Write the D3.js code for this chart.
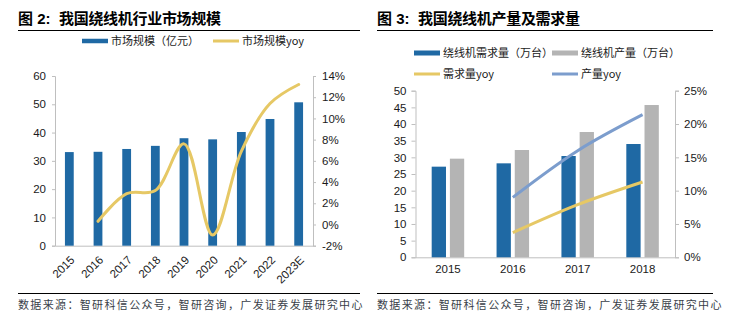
<!DOCTYPE html>
<html>
<head>
<meta charset="utf-8">
<script src="https://cdn.jsdelivr.net/npm/d3@7"></script>
<style>
  body { margin: 0; background: #fff; }
  svg text { font-family: "Liberation Sans", Arial, "Noto Sans CJK SC", sans-serif; }
  .cjk { font-family: "Noto Sans CJK SC", sans-serif; }
  .title { font-family: "Liberation Sans", Arial, "Noto Sans CJK SC", sans-serif; }
</style>
</head>
<body>
<div id="chart"></div>
<script>
// 图2 市场规模
var years1 = ["2015", "2016", "2017", "2018", "2019", "2020", "2021", "2022", "2023E"];
var market = [33.1, 33.2, 34.2, 35.3, 38.0, 37.6, 40.2, 44.8, 50.7];
var marketYoy = [null, 0.3, 2.9, 3.2, 7.6, -1.0, 6.9, 11.4, 13.2];
var leftTicks1 = [0, 10, 20, 30, 40, 50, 60];
var rightTicks1 = [-2, 0, 2, 4, 6, 8, 10, 12, 14];

// 图3 产量及需求量
var years2 = ["2015", "2016", "2017", "2018"];
var demand = [27.2, 28.2, 30.4, 34.0];
var output = [29.6, 32.2, 37.6, 45.7];
var demandYoy = [null, 3.7, 7.9, 11.3];
var outputYoy = [null, 9.0, 16.0, 21.4];
var leftTicks2 = [0, 5, 10, 15, 20, 25, 30, 35, 40, 45, 50];
var rightTicks2 = [0, 5, 10, 15, 20, 25];

var blue = "#1F69A4", gray = "#B4B4B4", yellow = "#E6C865", steel = "#7C9DCD";

var svg = d3.select("#chart").append("svg")
  .attr("width", 729)
  .attr("height", 325);

function header(x0, x1, num, title, srcY) {
  var t = svg.append("text")
    .attr("class", "title")
    .attr("x", x0)
    .attr("y", 24)
    .attr("font-size", "15px")
    .attr("font-weight", "bold")
    .attr("fill", "#000");
  t.append("tspan").text("图 " + num + ": ");
  t.append("tspan").attr("x", x0 + 41).attr("letter-spacing", "-0.3px").text(title);
  svg.append("line")
    .attr("x1", x0).attr("x2", x1)
    .attr("y1", 30.5).attr("y2", 30.5)
    .attr("stroke", "#000").attr("stroke-width", 1.2);
  svg.append("line")
    .attr("x1", x0).attr("x2", x1)
    .attr("y1", srcY).attr("y2", srcY)
    .attr("stroke", "#000").attr("stroke-width", 1.2);
  svg.append("text")
    .attr("class", "cjk")
    .attr("x", x0)
    .attr("y", srcY + 15)
    .attr("font-size", "11px")
    .attr("letter-spacing", "1.35px")
    .attr("fill", "#3a3f4a")
    .text("数据来源：智研科信公众号，智研咨询，广发证券发展研究中心");
}

function legendItem(x, y, color, h, label) {
  svg.append("rect")
    .attr("x", x).attr("y", y - h / 2)
    .attr("width", 26).attr("height", h)
    .attr("fill", color);
  svg.append("text")
    .attr("class", "cjk")
    .attr("x", x + 29).attr("y", y + 4)
    .attr("font-size", "11px")
    .attr("fill", "#1a1a1a")
    .text(label);
}

function styleAxis(g) {
  g.select(".domain").attr("stroke", "#BFBFBF");
  g.selectAll(".tick line").attr("stroke", "#BFBFBF");
  g.selectAll(".tick text").attr("fill", "#1a1a1a").attr("font-size", "11.5px");
}

// ---------- left chart ----------
header(18, 360, "2", "我国绕线机行业市场规模", 293.5);
legendItem(82, 41, blue, 4.5, "市场规模（亿元）");
legendItem(213, 41, yellow, 3, "市场规模yoy");

var x1 = d3.scaleBand().domain(years1).range([55, 313]);
var y1 = d3.scaleLinear().domain([0, 60]).range([245.7, 76]);
var y1r = d3.scaleLinear().domain([-2, 14]).range([245.7, 76]);

svg.append("g")
  .attr("transform", "translate(55,0)")
  .call(d3.axisLeft(y1).tickValues(leftTicks1).tickSize(3).tickPadding(6))
  .call(styleAxis);

svg.append("g")
  .attr("transform", "translate(313,0)")
  .call(d3.axisRight(y1r).tickValues(rightTicks1).tickSize(3).tickPadding(6)
    .tickFormat(function (d) { return d + "%"; }))
  .call(styleAxis);

// rotated year labels, end of text near the bar centre
var xa1 = svg.append("g")
  .attr("transform", "translate(0,245.7)")
  .call(d3.axisBottom(x1).tickSize(0).tickPadding(0))
  .call(styleAxis);
xa1.selectAll(".tick text")
  .attr("text-anchor", "end")
  .attr("x", 0)
  .attr("y", 0)
  .attr("dy", 0)
  .attr("transform", "translate(6,15) rotate(-45)");

svg.append("g").selectAll("rect")
  .data(market)
  .enter()
  .append("rect")
  .attr("x", function (d, i) { return x1(years1[i]) + x1.bandwidth() / 2 - 4.4; })
  .attr("y", function (d) { return y1(d); })
  .attr("width", 8.8)
  .attr("height", function (d) { return y1(0) - y1(d); })
  .attr("fill", blue);

var line1 = d3.line()
  .defined(function (d) { return d != null; })
  .x(function (d, i) { return x1(years1[i]) + x1.bandwidth() / 2; })
  .y(function (d) { return y1r(d); })
  .curve(d3.curveCatmullRom.alpha(0.5));

svg.append("path")
  .datum(marketYoy)
  .attr("d", line1)
  .attr("fill", "none")
  .attr("stroke", yellow)
  .attr("stroke-width", 3)
  .attr("stroke-linecap", "round");

// ---------- right chart ----------
header(377, 713, "3", "我国绕线机产量及需求量", 293.5);
legendItem(414, 53, blue, 5, "绕线机需求量（万台）");
legendItem(552, 53, gray, 5, "绕线机产量（万台）");
legendItem(414, 74, yellow, 3, "需求量yoy");
legendItem(552, 74, steel, 3, "产量yoy");

var x2 = d3.scaleBand().domain(years2).range([415.5, 675]);
var y2 = d3.scaleLinear().domain([0, 50]).range([257.3, 90.7]);
var y2r = d3.scaleLinear().domain([0, 25]).range([257.3, 90.7]);

svg.append("g")
  .attr("transform", "translate(415.5,0)")
  .call(d3.axisLeft(y2).tickValues(leftTicks2).tickSize(4).tickPadding(5))
  .call(styleAxis);

svg.append("g")
  .attr("transform", "translate(675,0)")
  .call(d3.axisRight(y2r).tickValues(rightTicks2).tickSize(4).tickPadding(5)
    .tickFormat(function (d) { return d + "%"; }))
  .call(styleAxis);

svg.append("g")
  .attr("transform", "translate(0,257.3)")
  .call(d3.axisBottom(x2).tickSize(0).tickPadding(8))
  .call(styleAxis);

var bw = 14.3;
svg.append("g").selectAll("rect")
  .data(demand)
  .enter()
  .append("rect")
  .attr("x", function (d, i) { return x2(years2[i]) + x2.bandwidth() / 2 - 9.1 - bw / 2; })
  .attr("y", function (d) { return y2(d); })
  .attr("width", bw)
  .attr("height", function (d) { return y2(0) - y2(d); })
  .attr("fill", blue);

svg.append("g").selectAll("rect")
  .data(output)
  .enter()
  .append("rect")
  .attr("x", function (d, i) { return x2(years2[i]) + x2.bandwidth() / 2 + 9.1 - bw / 2; })
  .attr("y", function (d) { return y2(d); })
  .attr("width", bw)
  .attr("height", function (d) { return y2(0) - y2(d); })
  .attr("fill", gray);

var line2 = d3.line()
  .defined(function (d) { return d != null; })
  .x(function (d, i) { return x2(years2[i]) + x2.bandwidth() / 2; })
  .y(function (d) { return y2r(d); })
  .curve(d3.curveCatmullRom.alpha(0.5));

svg.append("path")
  .datum(demandYoy)
  .attr("d", line2)
  .attr("fill", "none")
  .attr("stroke", yellow)
  .attr("stroke-width", 3);

svg.append("path")
  .datum(outputYoy)
  .attr("d", line2)
  .attr("fill", "none")
  .attr("stroke", steel)
  .attr("stroke-width", 3);
</script>
</body>
</html>
